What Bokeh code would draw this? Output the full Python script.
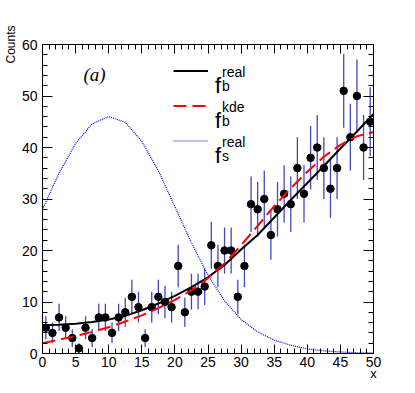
import numpy as np
from bokeh.plotting import figure
from bokeh.models import (Range1d, LinearAxis, FixedTicker, Label, Legend,
                          LegendItem, ColumnDataSource)
from bokeh.embed import file_html
from bokeh.resources import INLINE

# ---------------- data ----------------
bin_centers = [i + 0.5 for i in range(50)]
counts = [5, 4, 7, 5, 3, 1, 5, 3, 7, 7,
          4, 7, 8, 11, 9, 3, 9, 11, 10, 9,
          17, 8, 12, 12, 13, 21, 17, 20, 20, 11,
          17, 29, 28, 30, 23, 28, 31, 29, 36, 31,
          38, 40, 36, 32, 36, 51, 42, 50, 40, 45]

curve_x = [0, 2.5, 5, 7.5, 10, 12.5, 15, 17.5, 20, 22.5, 25,
           27.5, 30, 32.5, 35, 37.5, 40, 42.5, 45, 47.5, 50]
fb_real = [5.5, 5.6, 5.8, 6.1, 6.6, 7.3, 8.4, 9.7, 11.2, 12.9, 14.8,
           17.2, 20.2, 23.0, 26.4, 29.8, 33.1, 36.4, 39.8, 43.1, 46.5]
fb_kde = [2.0, 2.7, 3.4, 4.2, 5.1, 6.2, 7.4, 8.8, 10.4, 12.3, 14.6,
          17.5, 21.0, 24.8, 28.6, 32.1, 35.3, 38.2, 40.5, 42.2, 43.0]
fs_real = [28.0, 35.0, 40.8, 44.6, 46.0, 44.9, 41.2, 35.5, 28.5, 21.5, 15.2,
           10.2, 6.6, 4.2, 2.6, 1.6, 0.9, 0.5, 0.3, 0.15, 0.1]

x_ticks = [0, 5, 10, 15, 20, 25, 30, 35, 40, 45, 50]
y_ticks = [0, 10, 20, 30, 40, 50, 60]
x_minor = list(range(0, 51))
y_minor = list(range(0, 61, 2))

# ---------------- figure ----------------
W, H = 399, 385
ML, MR, MT, MB = 42, 26, 44, 32
p = figure(width=W, height=H, x_range=Range1d(0, 50), y_range=Range1d(0, 60),
           output_backend="svg", toolbar_location=None,
           min_border_left=ML, min_border_right=MR,
           min_border_top=MT, min_border_bottom=MB)
p.xgrid.visible = False
p.ygrid.visible = False
p.outline_line_color = "black"
p.outline_line_width = 1
p.background_fill_color = "white"
p.border_fill_color = "white"

FW = W - ML - MR
FH = H - MT - MB


def dx(px):
    # picture pixel -> data x
    return (px - ML) * 50.0 / FW


def dy(py):
    # picture pixel -> data y
    return (MT + FH - py) * 60.0 / FH


def style_axis(ax, ticks, minor, labels=True, major_len=9):
    ax.ticker = FixedTicker(ticks=ticks, minor_ticks=minor)
    ax.major_tick_in = major_len
    ax.major_tick_out = 0
    ax.minor_tick_in = 5
    ax.minor_tick_out = 0
    ax.axis_line_color = "black"
    ax.major_tick_line_color = "black"
    ax.minor_tick_line_color = "black"
    ax.major_label_text_font = "Liberation Sans"
    ax.major_label_text_font_size = "14px"
    ax.major_label_text_color = "black" if labels else None
    ax.major_label_standoff = 3
    ax.axis_label_text_font = "Liberation Sans"
    ax.axis_label_text_font_style = "normal"
    ax.axis_label_text_color = "black"


xa = p.xaxis[0]
ya = p.yaxis[0]
style_axis(xa, x_ticks, x_minor)
style_axis(ya, y_ticks, y_minor, major_len=10)
ya.major_label_standoff = 5

xa.axis_label = "x"
xa.axis_label_text_font_size = "13px"
xa.axis_label_standoff = -4
xa.axis_label_align = "end"
ya.axis_label = "Counts"
ya.axis_label_text_font_size = "12px"
ya.axis_label_standoff = 1
ya.axis_label_align = "end"

top = LinearAxis()
style_axis(top, x_ticks, x_minor, labels=False)
p.add_layout(top, "above")
right = LinearAxis()
style_axis(right, y_ticks, y_minor, labels=False, major_len=10)
p.add_layout(right, "right")

# ---------------- glyphs ----------------
cnt = np.array(counts, dtype=float)
err = np.sqrt(cnt)
src = ColumnDataSource(dict(x=bin_centers, y=cnt, lo=cnt - err, hi=cnt + err))

r_s = p.line(curve_x, fs_real, line_color="#0000ff", line_width=1.2,
             line_dash="1 1")
p.segment(x0="x", y0="lo", x1="x", y1="hi", source=src,
          line_color="#4646c0", line_width=1.3)
p.scatter(x="x", y="y", source=src, size=7.5, marker="circle",
          fill_color="black", line_color="black")
r_b = p.line(curve_x, fb_real, line_color="black", line_width=2)
r_k = p.line(curve_x, fb_kde, line_color="#ff0000", line_width=2,
             line_dash="13 6")

# ---------------- legend (line samples) ----------------
rows = [70.8, 105.8, 140.8]
leg_top_rel = rows[0] - 17.5 - MT
legend = Legend(items=[LegendItem(label=" ", renderers=[r_b]),
                       LegendItem(label=" ", renderers=[r_k]),
                       LegendItem(label=" ", renderers=[r_s])],
                location=(173 - ML, FH - leg_top_rel - 105),
                glyph_width=35, glyph_height=35, spacing=0, padding=0,
                margin=0, label_standoff=0, label_width=1,
                label_text_font_size="1px",
                border_line_color=None, background_fill_alpha=0)
p.add_layout(legend)

sans = "Liberation Sans"
legend_texts = [("real", "b"), ("kde", "b"), ("real", "s")]
for L, (sup, sub) in zip(rows, legend_texts):
    p.add_layout(Label(x=dx(214.5), y=dy(L + 14.5), text="f",
                       text_font=sans, text_font_size="22px",
                       text_align="left", text_baseline="alphabetic",
                       text_color="black"))
    p.add_layout(Label(x=dx(221.5), y=dy(L + 0.8), text=sup,
                       text_font=sans, text_font_size="14px",
                       text_align="left", text_baseline="alphabetic",
                       text_color="black"))
    p.add_layout(Label(x=dx(221.5), y=dy(L + 14.5), text=sub,
                       text_font=sans, text_font_size="14px",
                       text_align="left", text_baseline="alphabetic",
                       text_color="black"))

# ---------------- other texts ----------------
p.add_layout(Label(x=dx(94), y=dy(73.5), text="(a)",
                   text_font="Liberation Serif", text_font_style="italic",
                   text_font_size="19px", text_align="center",
                   text_baseline="middle", text_color="black"))

open("out.html", "w").write(file_html(p, INLINE))
